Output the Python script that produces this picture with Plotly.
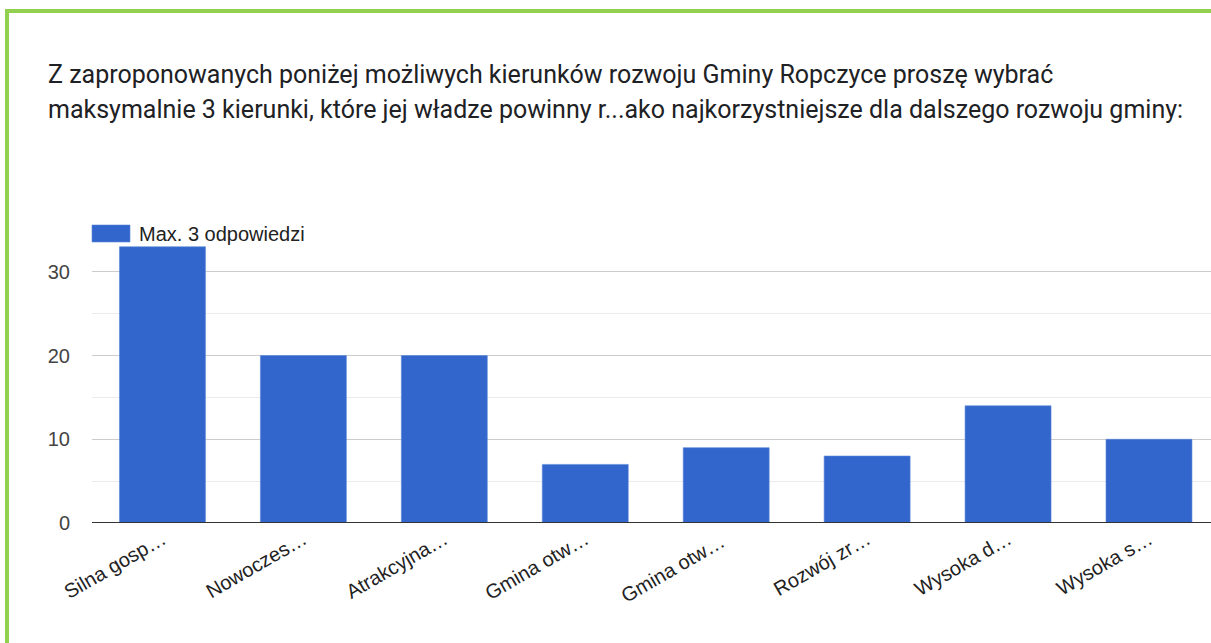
import plotly.graph_objects as go

categories = ["Silna gosp…", "Nowoczes…", "Atrakcyjna…", "Gmina otw…",
              "Gmina otw… ", "Rozwój zr…", "Wysoka d…", "Wysoka s…"]
values = [33, 20, 20, 7, 9, 8, 14, 10]
series_name = "Max. 3 odpowiedzi"
title_line1 = "Z zaproponowanych poniżej możliwych kierunków rozwoju Gminy Ropczyce proszę wybrać"
title_line2 = "maksymalnie 3 kierunki, które jej władze powinny r...ako najkorzystniejsze dla dalszego rozwoju gminy:"

W, H = 1211, 643
ML, MR, MT, MB = 92, 0, 230, 120
PW = W - ML - MR
PH = H - MT - MB

def px_x(p):
    return (p - ML) / PW

def px_y(p):
    return (H - MB - p) / PH

fig = go.Figure()
fig.add_trace(go.Bar(
    x=list(range(len(categories))), y=values, name=series_name,
    marker=dict(color="#3366cc", line=dict(color="#5a86d8", width=0.6)),
    showlegend=False,
))

fig.update_layout(
    width=W, height=H,
    margin=dict(l=ML, r=MR, t=MT, b=MB, pad=0),
    paper_bgcolor="white", plot_bgcolor="white",
    bargap=0.39,
    showlegend=False,
    font=dict(family="Liberation Sans, Arial, sans-serif", size=20, color="#444444"),
)
fig.update_xaxes(
    range=[-0.5, 7.44],
    tickmode="array", tickvals=list(range(len(categories))), ticktext=categories,
    tickangle=-30, showgrid=False, ticks="",
    showline=False, zeroline=False,
    tickfont=dict(size=20, color="#222222"),
)
fig.update_yaxes(
    range=[0, 35], tickvals=[0, 10, 20, 30],
    showgrid=True, gridcolor="#cccccc", gridwidth=1,
    minor=dict(tickvals=[5, 15, 25, 35], showgrid=True, gridcolor="#ebebeb", gridwidth=1),
    zeroline=False, showline=False, ticks="",
    ticklabelstandoff=21,
    tickfont=dict(size=20, color="#444444"),
)

# x-axis baseline
fig.add_shape(type="line", xref="paper", yref="y", x0=0, x1=1, y0=0, y1=0,
              line=dict(color="#333333", width=2))

# legend swatch + label
fig.add_shape(type="rect", xref="paper", yref="paper",
              x0=px_x(92), x1=px_x(130), y0=px_y(242), y1=px_y(225),
              fillcolor="#3366cc", line=dict(color="#5a86d8", width=0.6))
fig.add_annotation(text=series_name, xref="paper", yref="paper",
                   x=px_x(137), y=px_y(234), xanchor="left", yanchor="middle",
                   showarrow=False, font=dict(size=20, color="#222222"))

# titles
title_font = dict(family="Roboto, sans-serif", size=25, color="#202124")
fig.add_annotation(text=title_line1, xref="paper", yref="paper",
                   x=px_x(46), y=px_y(74), xanchor="left", yanchor="middle",
                   showarrow=False, font=title_font)
fig.add_annotation(text=title_line2, xref="paper", yref="paper",
                   x=px_x(46), y=px_y(110), xanchor="left", yanchor="middle",
                   showarrow=False, font=title_font)

# green frame
fig.add_shape(type="line", xref="paper", yref="paper",
              x0=px_x(5), x1=px_x(1211), y0=px_y(11), y1=px_y(11),
              line=dict(color="#92d050", width=4))
fig.add_shape(type="line", xref="paper", yref="paper",
              x0=px_x(7), x1=px_x(7), y0=px_y(9), y1=px_y(643),
              line=dict(color="#92d050", width=4))

fig.write_html("out.html",
               config={"displayModeBar": False},
               post_script="document.body.style.margin='0';document.body.style.padding='0';")
